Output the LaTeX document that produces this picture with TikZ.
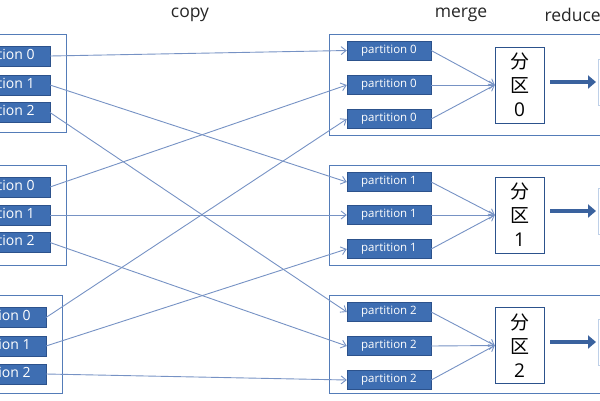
\documentclass[tikz,border=0pt]{standalone}
\usepackage{fontspec}
\setmainfont{Open Sans}
\newfontfamily\cjk{Noto Sans CJK SC}
\usetikzlibrary{arrows.meta}
\definecolor{boxblue}{RGB}{62,110,178}
\definecolor{boxedge}{RGB}{44,82,140}
\definecolor{framecol}{RGB}{84,124,184}
\definecolor{linecol}{RGB}{118,146,196}
\definecolor{thickcol}{RGB}{58,98,158}
\definecolor{faintcol}{RGB}{190,208,232}
\tikzset{
    grp/.style={draw=framecol,line width=1.3pt,inner sep=0pt},
    lpart/.style={draw=boxedge,fill=boxblue,text=white,anchor=east,inner sep=0pt,
        minimum width=98pt,minimum height=20pt,font=\fontsize{14pt}{16pt}\selectfont},
    rpart/.style={draw=boxedge,fill=boxblue,text=white,inner sep=0pt,
        minimum width=84pt,minimum height=19pt,font=\fontsize{11.5pt}{13pt}\selectfont},
    mergebox/.style={draw=boxedge,fill=white,inner sep=0pt,align=center,
        minimum width=49pt,minimum height=76pt,font=\fontsize{19pt}{24pt}\selectfont},
    reducebox/.style={draw=faintcol,line width=1pt,anchor=west,minimum width=30pt,minimum height=46pt},
    title/.style={font=\fontsize{17.5pt}{20pt}\selectfont,text=black!85},
    copyline/.style={draw=linecol,line width=0.9pt,-{Straight Barb[length=5pt,width=8pt]}},
    mergeline/.style={draw=linecol,line width=0.9pt,-{Straight Barb[length=5pt,width=8pt]}},
    bigarrow/.style={draw=thickcol,line width=4.5pt,-{Triangle[length=8pt,width=13pt]},shorten <=6pt,shorten >=2pt}
}
\begin{document}
\begin{tikzpicture}[x=1pt,y=-1pt]
    \useasboundingbox (0,0) rectangle (600,400);
    \clip (0,0) rectangle (600,400);

    \node[title] (copy) at (190,15) {copy};
    \node[title] (merge) at (461,15) {merge};
    \node[title,anchor=west] (reduce) at (541,15) {reduce};

    \node[grp,anchor=north east,minimum width=100pt,minimum height=98pt] (left0) at (67,34) {};
    \node[grp,anchor=north east,minimum width=100pt,minimum height=100pt] (left1) at (67,165) {};
    \node[grp,anchor=north east,minimum width=100pt,minimum height=98pt] (left2) at (63,295) {};
    \node[grp,anchor=north west,minimum width=320pt,minimum height=101pt] (right0) at (329,34) {};
    \node[grp,anchor=north west,minimum width=320pt,minimum height=100pt] (right1) at (329,165) {};
    \node[grp,anchor=north west,minimum width=320pt,minimum height=98pt] (right2) at (329,295) {};

    \node[lpart] (src00) at (50,56) {partition 0};
    \node[lpart] (src01) at (50,85) {partition 1};
    \node[lpart] (src02) at (50,112.5) {partition 2};
    \node[lpart] (src10) at (50,187) {partition 0};
    \node[lpart] (src11) at (50,215) {partition 1};
    \node[lpart] (src12) at (50,242.5) {partition 2};
    \node[lpart] (src20) at (46,317.5) {partition 0};
    \node[lpart] (src21) at (46,346) {partition 1};
    \node[lpart] (src22) at (46,374) {partition 2};

    \node[rpart] (dst00) at (389,50.5) {partition 0};
    \node[rpart] (dst01) at (389,85) {partition 0};
    \node[rpart] (dst02) at (389,119) {partition 0};
    \node[rpart] (dst10) at (389,182) {partition 1};
    \node[rpart] (dst11) at (389,215) {partition 1};
    \node[rpart] (dst12) at (389,249) {partition 1};
    \node[rpart] (dst20) at (389,312) {partition 2};
    \node[rpart] (dst21) at (389,346) {partition 2};
    \node[rpart] (dst22) at (389,380) {partition 2};

    \node[mergebox] (mrg0) at (519.5,85) {{\cjk 分}\\{\cjk 区}\\0};
    \node[mergebox] (mrg1) at (519.5,215) {{\cjk 分}\\{\cjk 区}\\1};
    \node[mergebox] (mrg2) at (519.5,345.5) {{\cjk 分}\\{\cjk 区}\\2};

    \node[reducebox] (red0) at (598,82) {};
    \node[reducebox] (red1) at (598,211) {};
    \node[reducebox] (red2) at (598,342) {};

    \draw[copyline] (src00.east) -- (dst00.west);
    \draw[copyline] (src01.east) -- (dst10.west);
    \draw[copyline] (src02.east) -- (dst20.west);
    \draw[copyline] (src10.east) -- (dst01.west);
    \draw[copyline] (src11.east) -- (dst11.west);
    \draw[copyline] (src12.east) -- (dst21.west);
    \draw[copyline] (src20.east) -- (dst02.west);
    \draw[copyline] (src21.east) -- (dst12.west);
    \draw[copyline] (src22.east) -- (dst22.west);

    \draw[mergeline] (dst00.east) -- (mrg0.west);
    \draw[mergeline] (dst01.east) -- (mrg0.west);
    \draw[mergeline] (dst02.east) -- (mrg0.west);
    \draw[mergeline] (dst10.east) -- (mrg1.west);
    \draw[mergeline] (dst11.east) -- (mrg1.west);
    \draw[mergeline] (dst12.east) -- (mrg1.west);
    \draw[mergeline] (dst20.east) -- (mrg2.west);
    \draw[mergeline] (dst21.east) -- (mrg2.west);
    \draw[mergeline] (dst22.east) -- (mrg2.west);

    \draw[bigarrow] (mrg0.east |- red0.west) -- (red0.west);
    \draw[bigarrow] (mrg1.east |- red1.west) -- (red1.west);
    \draw[bigarrow] (mrg2.east |- red2.west) -- (red2.west);
\end{tikzpicture}
\end{document}
